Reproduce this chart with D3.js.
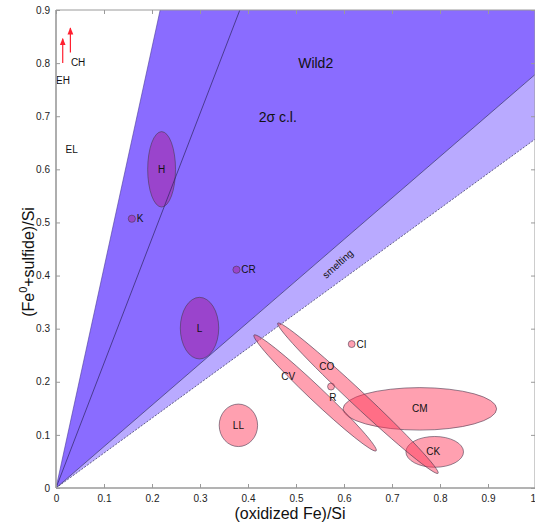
<!DOCTYPE html>
<html><head><meta charset="utf-8">
<script src="https://cdn.jsdelivr.net/npm/d3@7"></script>
<style>
html,body{margin:0;padding:0;background:#fff;}
svg{display:block;font-family:"Liberation Sans",Arial,sans-serif;}
</style></head>
<body>
<svg id="chart" width="535" height="524"></svg>
<script>
// ---- data ----
const xTicks = [0,0.1,0.2,0.3,0.4,0.5,0.6,0.7,0.8,0.9,1];
const yTicks = [0,0.1,0.2,0.3,0.4,0.5,0.6,0.7,0.8,0.9];
// Wild2 confidence wedge: lines from origin to these end points
const wild2LeftEnd = [0.217, 0.9];
const wild2MidEnd = [0.383, 0.9];
const wild2RightEnd = [1.0, 0.78];
const smeltingEnd = [1.0, 0.658];
// meteorite groups (axis-aligned ellipses / dots)
const groupNames = ["H","L","LL","CM","CK","K","CR","CI","R"];
const groupX     = [0.220,0.299,0.380,0.758,0.789,0.158,0.376,0.616,0.573];
const groupY     = [0.600,0.301,0.118,0.149,0.068,0.507,0.411,0.271,0.191];
const groupRx    = [0.029,0.040,0.040,0.160,0.060,0.0075,0.0075,0.0072,0.0072];
const groupRy    = [0.071,0.058,0.040,0.040,0.029,0.0068,0.0068,0.0066,0.0066];
const groupKind  = ["purple","purple","pink","pink","pink","purple","purple","pink","pink"];
const labelX     = [0.220,0.299,0.380,0.758,0.786,0.168,0.386,0.626,0.577];
const labelY     = [0.600,0.301,0.118,0.149,0.068,0.507,0.411,0.271,0.170];
const labelAnchor= ["middle","middle","middle","middle","middle","start","start","start","middle"];
// elongated groups defined by their two tips
const longNames = ["CO","CV"];
const longTip1 = [[0.462,0.3105],[0.4125,0.288]];
const longTip2 = [[0.796,0.0277],[0.667,0.070]];
const longHalfW = [0.0155,0.0150];
const longLabelX = [0.564,0.484];
const longLabelY = [0.228,0.209];
// enstatite / CH arrows
const arrowNames = ["EH","CH"];
const arrowX = [0.014,0.030];
const arrowY0 = [0.800,0.820];
const arrowY1 = [0.846,0.866];
const arrowLabelX = [0.0,0.031];
const arrowLabelY = [0.768,0.801];
const elLabel = {name:"EL", x:0.020, y:0.638};

// ---- layout ----
const svg = d3.select("#chart");
const x = d3.scaleLinear().domain([0,1]).range([56,536]);
const y = d3.scaleLinear().domain([0,0.9]).range([488,10]);
const axisCol = "#9a9a9a";
const dark = "#8a6cff", light = "#b9aaff";

svg.append("defs").append("clipPath").attr("id","plot")
  .append("rect").attr("x",56).attr("y",10).attr("width",480).attr("height",478);
const g = svg.append("g").attr("clip-path","url(#plot)");

// light smelting band
g.append("path")
  .attr("d", d3.line()([[x(0),y(0)],[x(wild2RightEnd[0]),y(wild2RightEnd[1])],[x(smeltingEnd[0]),y(smeltingEnd[1])]]) + "Z")
  .attr("fill", light);
// dark Wild2 wedge
g.append("path")
  .attr("d", d3.line()([[x(0),y(0)],[x(wild2LeftEnd[0]),y(wild2LeftEnd[1])],[x(1),y(0.9)],[x(wild2RightEnd[0]),y(wild2RightEnd[1])]]) + "Z")
  .attr("fill", dark);
// edges
g.append("line").attr("x1",x(0)).attr("y1",y(0)).attr("x2",x(wild2LeftEnd[0])).attr("y2",y(wild2LeftEnd[1]))
  .attr("stroke","#4a3a99").attr("stroke-width",0.6);
g.append("line").attr("x1",x(0)).attr("y1",y(0)).attr("x2",x(wild2RightEnd[0])).attr("y2",y(wild2RightEnd[1]))
  .attr("stroke","#33306a").attr("stroke-width",0.7);
g.append("line").attr("x1",x(0)).attr("y1",y(0)).attr("x2",x(smeltingEnd[0])).attr("y2",y(smeltingEnd[1]))
  .attr("stroke","#444466").attr("stroke-width",0.8).attr("stroke-dasharray","2,1.5");

// pink/purple ellipses
const pinkFill = "rgb(255,53,87)", pinkOp = 0.47;
const purpleFill = "#9a44cc";
groupNames.forEach((n,i)=>{
  g.append("ellipse")
    .attr("cx",x(groupX[i])).attr("cy",y(groupY[i]))
    .attr("rx",x(groupRx[i])-x(0)).attr("ry",y(0)-y(groupRy[i]))
    .attr("fill", groupKind[i]==="pink"?pinkFill:purpleFill)
    .attr("fill-opacity", groupKind[i]==="pink"?pinkOp:1)
    .attr("stroke","#4a3a50").attr("stroke-width",0.6);
});
longNames.forEach((n,i)=>{
  const p1=[x(longTip1[i][0]),y(longTip1[i][1])], p2=[x(longTip2[i][0]),y(longTip2[i][1])];
  const cx=(p1[0]+p2[0])/2, cy=(p1[1]+p2[1])/2;
  const len=Math.hypot(p2[0]-p1[0],p2[1]-p1[1])/2;
  const ang=Math.atan2(p2[1]-p1[1],p2[0]-p1[0])*180/Math.PI;
  g.append("ellipse").attr("cx",0).attr("cy",0).attr("rx",len).attr("ry",x(longHalfW[i])-x(0))
    .attr("transform",`translate(${cx},${cy}) rotate(${ang})`)
    .attr("fill",pinkFill).attr("fill-opacity",pinkOp)
    .attr("stroke","#4a3a50").attr("stroke-width",0.6);
});
// mid line on top
g.append("line").attr("x1",x(0)).attr("y1",y(0)).attr("x2",x(wild2MidEnd[0])).attr("y2",y(wild2MidEnd[1]))
  .attr("stroke","#2e2660").attr("stroke-width",0.7);

// group labels
groupNames.forEach((n,i)=>{
  svg.append("text").attr("x",x(labelX[i])).attr("y",y(labelY[i])).attr("dy","0.35em")
    .attr("text-anchor",labelAnchor[i]).attr("font-size",10).attr("fill","#111").text(n);
});
longNames.forEach((n,i)=>{
  svg.append("text").attr("x",x(longLabelX[i])).attr("y",y(longLabelY[i])).attr("dy","0.35em")
    .attr("text-anchor","middle").attr("font-size",10).attr("fill","#111").text(n);
});

// arrows
const defs = svg.select("defs");
defs.append("marker").attr("id","ah").attr("viewBox","0 0 10 10").attr("refX",9).attr("refY",5)
  .attr("markerWidth",6).attr("markerHeight",7).attr("orient","auto")
  .append("path").attr("d","M0,1 L10,5 L0,9 Z").attr("fill","#ff2030");
arrowNames.forEach((n,i)=>{
  svg.append("line").attr("x1",x(arrowX[i])).attr("y1",y(arrowY0[i])).attr("x2",x(arrowX[i])).attr("y2",y(arrowY1[i]))
    .attr("stroke","#ff2030").attr("stroke-width",1.2).attr("marker-end","url(#ah)");
  svg.append("text").attr("x",x(arrowLabelX[i])).attr("y",y(arrowLabelY[i])).attr("dy","0.35em")
    .attr("font-size",10).attr("fill","#111").text(n);
});
svg.append("text").attr("x",x(elLabel.x)).attr("y",y(elLabel.y)).attr("dy","0.35em")
  .attr("font-size",10).attr("fill","#111").text(elLabel.name);

// region labels
svg.append("text").attr("x",x(0.541)).attr("y",y(0.80)).attr("dy","0.35em").attr("text-anchor","middle")
  .attr("font-size",14).attr("fill","#111").text("Wild2");
svg.append("text").attr("x",x(0.462)).attr("y",y(0.698)).attr("dy","0.35em").attr("text-anchor","middle")
  .attr("font-size",14).attr("fill","#111").text("2σ c.l.");
svg.append("text").attr("transform",`translate(${x(0.587)},${y(0.422)}) rotate(-42)`)
  .attr("dy","0.35em").attr("text-anchor","middle").attr("font-size",10).attr("fill","#111").text("smelting");

// axes frame
const frame = svg.append("g");
frame.append("line").attr("x1",56).attr("y1",488).attr("x2",536).attr("y2",488).attr("stroke",axisCol).attr("stroke-width",1.6);
frame.append("line").attr("x1",56).attr("y1",10).attr("x2",56).attr("y2",488).attr("stroke",axisCol).attr("stroke-width",1.6);
frame.append("line").attr("x1",56).attr("y1",10).attr("x2",536).attr("y2",10).attr("stroke",axisCol).attr("stroke-width",1);
frame.append("line").attr("x1",535).attr("y1",10).attr("x2",535).attr("y2",488).attr("stroke",axisCol).attr("stroke-width",1);

const xAxis = d3.axisBottom(x).tickValues(xTicks).tickSize(-4).tickPadding(7)
  .tickFormat(d=>d===0?"0":d===1?"1":d3.format(".1f")(d));
const gx = svg.append("g").attr("transform","translate(0,488)").call(xAxis);
const xTop = d3.axisTop(x).tickValues(xTicks).tickSize(-4).tickFormat("");
const gxt = svg.append("g").attr("transform","translate(0,10)").call(xTop);
const yAxis = d3.axisLeft(y).tickValues(yTicks).tickSize(-4).tickPadding(6)
  .tickFormat(d=>d===0?"0":d3.format(".1f")(d));
const gy = svg.append("g").attr("transform","translate(56,0)").call(yAxis);
const yRight = d3.axisRight(y).tickValues(yTicks).tickSize(-4).tickFormat("");
const gyr = svg.append("g").attr("transform","translate(535,0)").call(yRight);
[gx,gxt,gy,gyr].forEach(a=>{
  a.select(".domain").remove();
  a.selectAll(".tick line").attr("stroke",axisCol).attr("stroke-width",1);
  a.selectAll("text").attr("font-size",10).attr("fill","#222").attr("font-family","Liberation Sans, Arial, sans-serif");
});
// keep the last x tick label inside the window
gx.selectAll(".tick text").filter(d=>d===1).attr("text-anchor","end").attr("dx",-0.5);

// axis titles
svg.append("text").attr("x",290).attr("y",519).attr("text-anchor","middle")
  .attr("font-size",16).attr("fill","#111").text("(oxidized Fe)/Si");
const yl = svg.append("text").attr("transform","translate(34,262) rotate(-90)").attr("text-anchor","middle")
  .attr("font-size",16).attr("fill","#111");
yl.append("tspan").text("(Fe");
yl.append("tspan").attr("dy",-7).attr("font-size",11).text("0");
yl.append("tspan").attr("dy",7).text("+sulfide)/Si");
</script>
</body></html>
